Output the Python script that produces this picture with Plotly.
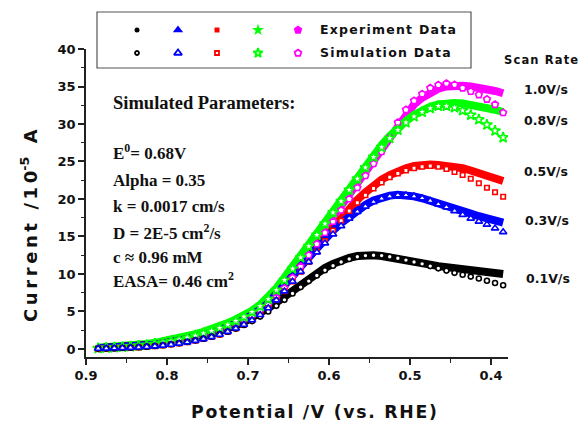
import plotly.graph_objects as go

# ---------------- data ----------------
potential = [0.885, 0.875, 0.865, 0.855, 0.845, 0.835, 0.825, 0.815, 0.805, 0.795,
             0.785, 0.775, 0.765, 0.755, 0.745, 0.735, 0.725, 0.715, 0.705, 0.695,
             0.685, 0.675, 0.665, 0.655, 0.645, 0.635, 0.625, 0.615, 0.605, 0.595,
             0.585, 0.575, 0.565, 0.555, 0.545, 0.535, 0.525, 0.515, 0.505, 0.495,
             0.485, 0.475, 0.465, 0.455, 0.445, 0.435, 0.425, 0.415, 0.405, 0.395,
             0.385]

scan_rates = ["0.1V/s", "0.3V/s", "0.5V/s", "0.8V/s", "1.0V/s"]

exp_01 = [0.10, 0.13, 0.17, 0.22, 0.28, 0.36, 0.45, 0.56, 0.69, 0.84,
          1.01, 1.21, 1.44, 1.70, 1.99, 2.32, 2.70, 3.13, 3.61, 4.14,
          4.75, 5.45, 6.2, 7.0, 7.8, 8.6, 9.4, 10.1, 10.8, 11.35,
          11.8, 12.15, 12.4, 12.5, 12.5, 12.4, 12.25, 12.05, 11.85, 11.65,
          11.45, 11.25, 11.05, 10.9, 10.75, 10.6, 10.45, 10.35, 10.2, 10.1,
          10.0]
sim_01 = [0.05, 0.07, 0.10, 0.14, 0.18, 0.24, 0.31, 0.40, 0.50, 0.63,
          0.78, 0.95, 1.15, 1.38, 1.65, 1.96, 2.31, 2.72, 3.19, 3.72,
          4.32, 5.0, 5.75, 6.55, 7.4, 8.25, 9.05, 9.8, 10.5, 11.1,
          11.6, 12.0, 12.3, 12.45, 12.5, 12.45, 12.3, 12.1, 11.85, 11.6,
          11.35, 11.05, 10.75, 10.45, 10.15, 9.9, 9.65, 9.4, 9.1, 8.8,
          8.5]

exp_03 = [0.10, 0.13, 0.17, 0.22, 0.28, 0.36, 0.46, 0.58, 0.72, 0.88,
          1.06, 1.27, 1.51, 1.78, 2.09, 2.45, 2.86, 3.33, 3.87, 4.48,
          5.2, 6.1, 7.2, 8.4, 9.7, 11.0, 12.3, 13.5, 14.7, 15.8,
          16.8, 17.7, 18.5, 19.2, 19.8, 20.2, 20.45, 20.55, 20.5, 20.35,
          20.1, 19.8, 19.45, 19.1, 18.75, 18.4, 18.05, 17.7, 17.4, 17.1,
          16.85]
sim_03 = [0.05, 0.07, 0.10, 0.13, 0.17, 0.22, 0.29, 0.37, 0.47, 0.59,
          0.73, 0.90, 1.10, 1.33, 1.60, 1.92, 2.30, 2.74, 3.25, 3.84,
          4.55, 5.45, 6.5, 7.7, 9.0, 10.3, 11.6, 12.9, 14.1, 15.3,
          16.4, 17.4, 18.3, 19.0, 19.6, 20.05, 20.35, 20.5, 20.5, 20.35,
          20.1, 19.75, 19.3, 18.9, 18.4, 17.9, 17.4, 17.0, 16.6, 16.1,
          15.6]

exp_05 = [0.10, 0.13, 0.17, 0.22, 0.28, 0.36, 0.46, 0.58, 0.72, 0.88,
          1.06, 1.27, 1.51, 1.78, 2.09, 2.45, 2.86, 3.33, 3.87, 4.48,
          5.2, 6.1, 7.2, 8.4, 9.7, 11.0, 12.3, 13.7, 15.0, 16.3,
          17.6, 18.8, 19.9, 20.9, 21.8, 22.6, 23.2, 23.7, 24.1, 24.4,
          24.55, 24.6, 24.55, 24.45, 24.3, 24.1, 23.8, 23.5, 23.2, 22.8,
          22.4]
sim_05 = [0.05, 0.07, 0.10, 0.13, 0.17, 0.22, 0.29, 0.37, 0.47, 0.59,
          0.73, 0.90, 1.10, 1.33, 1.60, 1.92, 2.30, 2.74, 3.25, 3.84,
          4.55, 5.45, 6.5, 7.7, 9.0, 10.3, 11.6, 13.0, 14.4, 15.8,
          17.1, 18.4, 19.5, 20.5, 21.4, 22.2, 22.9, 23.4, 23.8, 24.1,
          24.3, 24.4, 24.3, 24.0, 23.6, 23.2, 22.7, 22.1, 21.5, 20.9,
          20.3]

exp_08 = [0.15, 0.20, 0.26, 0.33, 0.42, 0.53, 0.66, 0.82, 1.00, 1.20,
          1.43, 1.70, 1.98, 2.28, 2.62, 3.00, 3.45, 3.95, 4.50, 5.10,
          5.9, 6.9, 8.1, 9.5, 11.0, 12.5, 14.0, 15.5, 17.0, 18.5,
          20.0, 21.5, 23.0, 24.5, 25.9, 27.2, 28.4, 29.5, 30.4, 31.2,
          31.8, 32.3, 32.6, 32.75, 32.8, 32.75, 32.6, 32.4, 32.2, 31.9,
          31.6]
sim_08 = [0.10, 0.14, 0.19, 0.25, 0.33, 0.42, 0.53, 0.67, 0.83, 1.02,
          1.24, 1.50, 1.78, 2.08, 2.42, 2.80, 3.25, 3.75, 4.30, 4.95,
          5.7, 6.65, 7.85, 9.2, 10.7, 12.2, 13.7, 15.2, 16.7, 18.2,
          19.7, 21.2, 22.7, 24.2, 25.6, 26.9, 28.1, 29.2, 30.2, 31.0,
          31.6, 32.1, 32.4, 32.4, 32.2, 31.8, 31.2, 30.6, 29.9, 29.1,
          28.2]

exp_10 = [0.12, 0.16, 0.21, 0.27, 0.35, 0.44, 0.55, 0.69, 0.85, 1.03,
          1.24, 1.48, 1.76, 2.06, 2.40, 2.78, 3.20, 3.68, 4.20, 4.80,
          5.5, 6.3, 7.4, 8.7, 10.1, 11.6, 13.1, 14.6, 16.1, 17.6,
          19.1, 20.6, 22.1, 23.7, 25.3, 26.9, 28.5, 30.0, 31.4, 32.6,
          33.5, 34.2, 34.7, 35.0, 35.1, 35.1, 35.0, 34.85, 34.65, 34.4,
          34.1]
sim_10 = [0.08, 0.11, 0.15, 0.20, 0.26, 0.34, 0.43, 0.55, 0.69, 0.85,
          1.04, 1.26, 1.51, 1.80, 2.12, 2.48, 2.88, 3.34, 3.85, 4.42,
          5.08, 5.85, 6.85, 8.1, 9.5, 11.0, 12.5, 14.0, 15.5, 17.0,
          18.5, 20.0, 21.5, 23.1, 24.7, 26.3, 28.2, 30.2, 31.9, 33.1,
          34.0, 34.8, 35.2, 35.4, 35.25, 34.8, 34.35, 33.9, 33.3, 32.6,
          31.5]

x_ticks = [0.9, 0.8, 0.7, 0.6, 0.5, 0.4]
x_tick_labels = ["0.9", "0.8", "0.7", "0.6", "0.5", "0.4"]
y_ticks = [0, 5, 10, 15, 20, 25, 30, 35, 40]

# ---------------- styling / layout geometry ----------------
BLACK, BLUE, RED, GREEN, MAGENTA = "#000000", "#0000ff", "#ff0000", "#00ff00", "#ff00ff"
AX = "#222222"
SANS = "DejaVu Sans"
SERIF = "Liberation Serif"
HS = "\u200a"   # hair space
TS = "\u2009"   # thin space


def spaced(s, sep=HS):
    return sep.join(s)


OFF = 8                      # page body margin
PL, PR, PT, PB = 86, 508, 49, 357   # plot box in window pixels
W, H = 588 - OFF, 425 - OFF
ML = PL - OFF
MR = W - (PR - OFF)
MB = H - (PB - OFF)
PH = H - MB                  # paper height (top margin 0)


def PX(x):
    return (x - PL) / (PR - PL)


def PY(y):
    return (PB - y) / PH


fig = go.Figure()

# drawing order bottom -> top
series = [
    ("1.0", MAGENTA, exp_10, sim_10, "pentagon", 7),
    ("0.8", GREEN, exp_08, sim_08, "star", 8),
    ("0.5", RED, exp_05, sim_05, "square", 4.5),
    ("0.1", BLACK, exp_01, sim_01, "circle", 5),
    ("0.3", BLUE, exp_03, sim_03, "triangle-up", 6.5),
]

# experiment data: dense thick bands
for name, color, ev, sv, sym, sz in series:
    fig.add_trace(go.Scatter(x=potential, y=ev, mode="lines",
                             line=dict(color=color, width=8),
                             showlegend=False, hoverinfo="skip"))

# simulation data: sparse open markers
for name, color, ev, sv, sym, sz in series:
    fig.add_trace(go.Scatter(x=potential, y=sv, mode="markers",
                             marker=dict(symbol=sym, size=sz, color="white",
                                         line=dict(color=color, width=1.6)),
                             showlegend=False, hoverinfo="skip"))

# legend glyphs (pixel overlay axes spanning the whole paper)
leg_x = [137, 178, 217, 258, 298]
leg_syms = [("circle", 5, 6), ("triangle-up", 9, 9), ("square", 5, 6), ("star", 9, 9), ("pentagon", 9, 9)]
leg_cols = [BLACK, BLUE, RED, GREEN, MAGENTA]
for xp, (sym, sf, so), col in zip(leg_x, leg_syms, leg_cols):
    fig.add_trace(go.Scatter(x=[xp], y=[30], xaxis="x2", yaxis="y2", mode="markers",
                             marker=dict(symbol=sym, size=sf, color=col, line=dict(width=0)),
                             showlegend=False, hoverinfo="skip", cliponaxis=False))
    fig.add_trace(go.Scatter(x=[xp], y=[53], xaxis="x2", yaxis="y2", mode="markers",
                             marker=dict(symbol=sym, size=so - 2, color="white",
                                         line=dict(color=col, width=1.8)),
                             showlegend=False, hoverinfo="skip", cliponaxis=False))

ann = []
lab_font = dict(family=SANS, size=12.5, color="#111", weight="bold")
ann.append(dict(x=PX(318), y=PY(30), text=spaced("Experiment Data"), font=lab_font))
ann.append(dict(x=PX(318), y=PY(53), text=spaced("Simulation Data"), font=lab_font))
ann.append(dict(x=PX(502), y=PY(60), text=spaced("Scan Rate"),
                font=dict(family=SANS, size=11.5, color="#111", weight="bold")))
label_y = {"1.0V/s": 90, "0.8V/s": 120, "0.5V/s": 172, "0.3V/s": 220, "0.1V/s": 278}
label_x = {"1.0V/s": 522, "0.8V/s": 522, "0.5V/s": 522, "0.3V/s": 523, "0.1V/s": 524}
for lab in scan_rates:
    ann.append(dict(x=PX(label_x[lab]), y=PY(label_y[lab]), text=lab,
                    font=dict(family=SANS, size=12.5, color="#111", weight="bold")))
for a in ann:
    a.update(xref="paper", yref="paper", xanchor="left", yanchor="middle", showarrow=False)

params = [
    ("Simulated Parameters:", 103, 18.5),
    ("E<sup>0</sup>= 0.68V", 152, 17),
    ("Alpha = 0.35", 180, 17),
    ("k = 0.0017 cm/s", 206, 17),
    ("D = 2E-5 cm<sup>2</sup>/s", 232, 17),
    ("c ≈ 0.96 mM", 257, 17),
    ("EASA= 0.46 cm<sup>2</sup>", 280, 17),
]
for t, yp, fs in params:
    ann.append(dict(x=PX(111), y=PY(yp), xref="paper", yref="paper", xanchor="left",
                    yanchor="middle", showarrow=False, text=t,
                    font=dict(family=SERIF, size=fs, color="#111", weight="bold")))

ann.append(dict(x=PX(314), y=PY(412), xref="paper", yref="paper", xanchor="center",
                yanchor="middle", showarrow=False, text=spaced("Potential /V (vs. RHE)"),
                font=dict(family=SANS, size=17.3, color="#111", weight="bold")))
ytitle = spaced("Current /10", TS) + "<sup>-5</sup>" + TS + spaced(" A", TS)
ann.append(dict(x=PX(29), y=PY(226), xref="paper", yref="paper", xanchor="center",
                yanchor="middle", showarrow=False, text=ytitle, textangle=-90,
                font=dict(family=SANS, size=18, color="#111", weight="bold")))

shapes = [dict(type="rect", xref="paper", yref="paper", x0=PX(97), x1=PX(471),
               y0=PY(68), y1=PY(12), line=dict(color="#555", width=1.2),
               fillcolor="rgba(0,0,0,0)", layer="above")]

tickfont = dict(family=SANS, size=13, color="#111", weight="bold")
fig.update_layout(
    width=W, height=H,
    margin=dict(l=ML, r=MR, t=0, b=MB, pad=0, autoexpand=False),
    paper_bgcolor="white", plot_bgcolor="rgba(0,0,0,0)",
    showlegend=False,
    annotations=ann, shapes=shapes,
    xaxis=dict(range=[0.9, 0.379], tickvals=x_ticks, ticktext=x_tick_labels,
               showline=True, linecolor=AX, linewidth=1.5, mirror=False,
               ticks="outside", ticklen=6, tickwidth=1.5, tickcolor=AX,
               minor=dict(ticks="outside", ticklen=4, tickwidth=1.2, tickcolor=AX, dtick=0.05, tick0=0.9),
               showgrid=False, zeroline=False, tickfont=tickfont, anchor="y", automargin=False),
    yaxis=dict(domain=[0, (PB - PT) / PH], range=[-1.07, 40],
               tickvals=y_ticks, showline=True, linecolor=AX, linewidth=1.5,
               ticks="outside", ticklen=6, tickwidth=1.5, tickcolor=AX,
               minor=dict(ticks="outside", ticklen=3.5, tickwidth=1.2, tickcolor=AX, dtick=2.5, tick0=0),
               showgrid=False, zeroline=False, tickfont=tickfont, anchor="x", automargin=False),
    xaxis2=dict(domain=[0, 1], range=[PL, PR], visible=False, anchor="y2"),
    yaxis2=dict(domain=[0, 1], range=[PB, PB - PH], visible=False, anchor="x2"),
)

fig.write_html("out.html")
